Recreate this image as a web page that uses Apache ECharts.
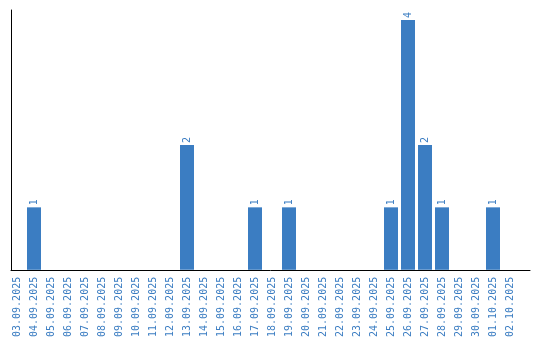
<!DOCTYPE html>
<html><head><meta charset="utf-8">
<script src="https://cdn.jsdelivr.net/npm/echarts@6/dist/echarts.min.js"></script>
<style>html,body{margin:0;padding:0;background:#fff}#c{width:540px;height:340px}</style>
</head><body><div id="c"></div>
<script>
const categories = ["03.09.2025","04.09.2025","05.09.2025","06.09.2025","07.09.2025","08.09.2025","09.09.2025","10.09.2025","11.09.2025","12.09.2025","13.09.2025","14.09.2025","15.09.2025","16.09.2025","17.09.2025","18.09.2025","19.09.2025","20.09.2025","21.09.2025","22.09.2025","23.09.2025","24.09.2025","25.09.2025","26.09.2025","27.09.2025","28.09.2025","29.09.2025","30.09.2025","01.10.2025","02.10.2025"];
const values = [0,1,0,0,0,0,0,0,0,0,2,0,0,0,1,0,1,0,0,0,0,0,1,4,2,1,0,0,1,0];
const blue = '#3b7dc2';
const font = 'DejaVu Sans Mono';
const chart = echarts.init(document.getElementById('c'), null, {renderer:'canvas'});
chart.setOption({
  animation:false,
  grid:[
    {left:8.5, right:21.5, top:10, bottom:70},
    {left:11, right:10, top:10, bottom:70}
  ],
  xAxis:[
    {type:'category', gridIndex:0, data:categories,
     axisLine:{show:false}, axisTick:{show:false},
     axisLabel:{rotate:90, interval:0, color:blue, fontFamily:font, fontSize:10, margin:7}},
    {type:'value', gridIndex:1, min:0, max:1, axisLine:{show:true, lineStyle:{color:'#000', width:1}},
     axisTick:{show:false}, axisLabel:{show:false}, splitLine:{show:false}}
  ],
  yAxis:[
    {type:'value', gridIndex:0, min:0, max:4.16, axisLine:{show:false}, axisTick:{show:false},
     axisLabel:{show:false}, splitLine:{show:false}},
    {type:'value', gridIndex:1, min:0, max:1, axisLine:{show:true, lineStyle:{color:'#000', width:1}},
     axisTick:{show:false}, axisLabel:{show:false}, splitLine:{show:false}}
  ],
  series:[{
    type:'bar', xAxisIndex:0, yAxisIndex:0, data:values, barWidth:14,
    itemStyle:{color:blue},
    label:{show:true, position:'top', rotate:90, align:'left', verticalAlign:'middle', distance:2,
      color:blue, fontFamily:font, fontSize:10,
      formatter:p=>p.value>0?String(p.value):''}
  }]
});
</script></body></html>
